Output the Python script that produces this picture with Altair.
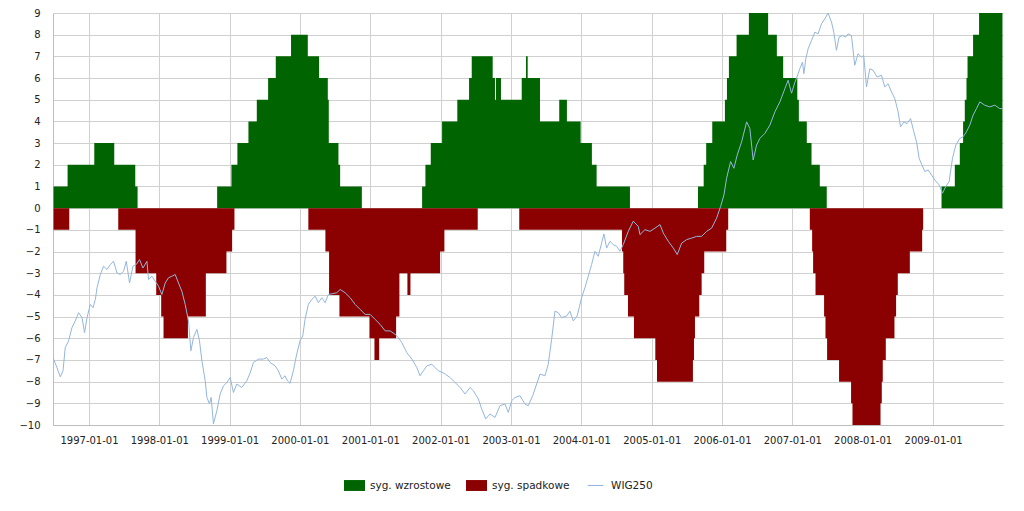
import altair as alt
import pandas as pd
from datetime import datetime, timedelta

# ---- data (times as decimal years) ----
green_t = [1996.497, 1996.696, 1997.075, 1997.359, 1997.658, 1997.691,
           1998.823, 1999.026, 1999.111, 1999.268, 1999.387, 1999.548, 1999.657, 1999.874,
           2000.112, 2000.272, 2000.396, 2000.410, 2000.547, 2000.571, 2000.879,
           2001.736, 2001.783, 2001.859, 2002.020, 2002.237, 2002.404, 2002.442, 2002.740,
           2002.773, 2002.787, 2002.858, 2003.153, 2003.214, 2003.238, 2003.413, 2003.687,
           2003.796, 2003.991, 2004.151, 2004.218, 2004.691,
           2005.658, 2005.739, 2005.775, 2005.861, 2006.041, 2006.070, 2006.098, 2006.207,
           2006.382, 2006.656, 2006.780, 2006.870, 2007.071, 2007.093, 2007.206, 2007.273,
           2007.391, 2007.490,
           2009.120, 2009.309, 2009.380, 2009.427, 2009.451, 2009.475, 2009.490, 2009.569,
           2009.654, 2009.987]
green_v = [1, 2, 3, 2, 1, 0,
           1, 2, 3, 4, 5, 6, 7, 8,
           7, 6, 5, 3, 2, 1, 0,
           1, 2, 3, 4, 5, 6, 7,
           6, 5, 6, 5, 6, 7, 6, 4,
           5, 4, 3, 2, 1, 0,
           1, 2, 3, 4, 5, 6, 7,
           8, 9, 8, 7, 6, 5, 4, 3,
           2, 1, 0,
           1, 2, 3, 4, 5, 6, 7,
           8, 9]

red_t = [1996.497, 1996.720,
         1997.416, 1997.662, 1997.956, 1998.027, 1998.060, 1998.407, 1998.662, 1998.955,
         1999.036, 1999.069,
         2000.120, 2000.362, 2000.414, 2000.561, 2000.987, 2001.058, 2001.125, 2001.366,
         2001.413, 2001.527, 2001.570, 2001.992, 2002.053, 2002.527,
         2003.118, 2004.578, 2004.596, 2004.610, 2004.663, 2004.748, 2005.051, 2005.075,
         2005.586, 2005.601, 2005.615, 2005.676, 2005.710, 2005.747, 2006.060, 2006.088,
         2007.249, 2007.282, 2007.296, 2007.330, 2007.452, 2007.472, 2007.495, 2007.665,
         2007.836, 2007.856, 2008.254, 2008.272, 2008.286, 2008.329, 2008.452, 2008.475,
         2008.499, 2008.670, 2008.845, 2008.859]
red_v = [-1, 0,
         -1, -3, -4, -5, -6, -5, -3, -2,
         -1, 0,
         -1, -2, -4, -5, -6, -7, -6, -5,
         -3, -4, -3, -2, -1, 0,
         -1, -2, -3, -4, -5, -6, -7, -8,
         -7, -6, -5, -4, -3, -2, -1, 0,
         -1, -2, -3, -4, -5, -6, -7, -8,
         -9, -10, -9, -8, -7, -6, -5, -4,
         -3, -2, -1]

wig_t = [1996.497, 1996.545, 1996.592, 1996.631, 1996.663, 1996.710, 1996.758, 1996.805,
         1996.852, 1996.901, 1996.937, 1996.972, 1997.018, 1997.057, 1997.090, 1997.114,
         1997.161, 1997.207, 1997.256, 1997.303, 1997.350, 1997.398, 1997.445, 1997.492,
         1997.530, 1997.577, 1997.625, 1997.672, 1997.719, 1997.767, 1997.824, 1997.847,
         1997.895, 1997.942, 1997.989, 1998.037, 1998.084, 1998.131, 1998.179, 1998.226,
         1998.273, 1998.321, 1998.368, 1998.415, 1998.449, 1998.486, 1998.535, 1998.572,
         1998.606, 1998.653, 1998.677, 1998.714, 1998.738, 1998.770, 1998.819, 1998.866,
         1998.913, 1998.961, 1999.008, 1999.055, 1999.103, 1999.174, 1999.245, 1999.292,
         1999.339, 1999.410, 1999.481, 1999.529, 1999.576, 1999.647, 1999.694, 1999.742,
         1999.789, 1999.822, 1999.860, 1999.907, 1999.955, 2000.002, 2000.041, 2000.073,
         2000.120, 2000.169, 2000.216, 2000.262, 2000.311, 2000.358, 2000.404, 2000.453,
         2000.524, 2000.571, 2000.642, 2000.713, 2000.784, 2000.855, 2000.926, 2000.997,
         2001.068, 2001.139, 2001.210, 2001.281, 2001.352, 2001.399, 2001.447, 2001.518,
         2001.590, 2001.661, 2001.707, 2001.754, 2001.803, 2001.874, 2001.921, 2001.967,
         2002.039, 2002.063, 2002.134, 2002.205, 2002.276, 2002.347, 2002.418, 2002.465,
         2002.536, 2002.584, 2002.641, 2002.702, 2002.773, 2002.844, 2002.915, 2002.962,
         2003.010, 2003.057, 2003.128, 2003.199, 2003.246, 2003.309, 2003.366, 2003.413,
         2003.484, 2003.530, 2003.579, 2003.626, 2003.673, 2003.721, 2003.792, 2003.839,
         2003.886, 2003.942, 2004.005, 2004.052, 2004.099, 2004.147, 2004.194, 2004.241,
         2004.289, 2004.322, 2004.360, 2004.407, 2004.454, 2004.502, 2004.549, 2004.596,
         2004.667, 2004.738, 2004.809, 2004.833, 2004.904, 2004.975, 2005.047, 2005.118,
         2005.165, 2005.236, 2005.307, 2005.363, 2005.426, 2005.497, 2005.568, 2005.639,
         2005.710, 2005.781, 2005.852, 2005.923, 2005.980, 2006.027, 2006.065, 2006.122,
         2006.169, 2006.216, 2006.279, 2006.350, 2006.396, 2006.443, 2006.492, 2006.539,
         2006.610, 2006.681, 2006.752, 2006.823, 2006.894, 2006.940, 2006.989, 2007.036,
         2007.083, 2007.107, 2007.145, 2007.164, 2007.192, 2007.225, 2007.273, 2007.320,
         2007.367, 2007.415, 2007.462, 2007.509, 2007.557, 2007.590, 2007.628, 2007.665,
         2007.714, 2007.760, 2007.793, 2007.841, 2007.888, 2007.935, 2007.983, 2008.016,
         2008.055, 2008.102, 2008.148, 2008.205, 2008.268, 2008.315, 2008.362, 2008.410,
         2008.457, 2008.504, 2008.538, 2008.585, 2008.632, 2008.680, 2008.727, 2008.765,
         2008.802, 2008.840, 2008.883, 2008.930, 2008.978, 2009.025, 2009.086, 2009.134,
         2009.181, 2009.228, 2009.276, 2009.323, 2009.380, 2009.427, 2009.475, 2009.522,
         2009.569, 2009.617, 2009.664, 2009.735, 2009.806, 2009.878, 2009.949, 2009.987]
wig_v = [-6.96, -7.35, -7.78, -7.5, -6.43, -6.12, -5.51, -5.2,
         -4.82, -5.05, -5.74, -5.05, -4.44, -4.59, -4.21, -3.67,
         -3.06, -2.68, -2.83, -2.6, -2.45, -2.99, -3.06, -2.91,
         -2.45, -3.45, -2.68, -2.6, -2.37, -2.76, -2.45, -3.29,
         -3.14, -3.37, -3.6, -3.98, -3.45, -3.21, -3.14, -3.06,
         -3.45, -3.83, -4.44, -5.2, -6.58, -5.97, -5.59, -6.12,
         -7.04, -7.96, -8.73, -9.03, -8.73, -9.95, -9.34, -8.57,
         -8.19, -8.04, -7.81, -8.5, -8.11, -8.27, -7.96, -7.6,
         -7.12, -6.96, -6.96, -6.89, -7.12, -7.27, -7.5, -7.88,
         -7.73, -7.96, -8.08, -7.5, -6.73, -6.12, -5.89, -5.13,
         -4.44, -4.21, -4.06, -4.36, -4.13, -4.36, -3.98, -3.95,
         -3.9, -3.75, -3.9, -4.13, -4.44, -4.67, -4.9, -4.9,
         -5.13, -5.36, -5.66, -5.66, -5.82, -5.97, -6.2, -6.66,
         -6.96, -7.35, -7.73, -7.5, -7.27, -7.2, -7.35, -7.5,
         -7.6, -7.65, -7.81, -8.04, -8.27, -8.57, -8.27, -8.42,
         -8.8, -9.26, -9.72, -9.49, -9.65, -9.11, -9.03, -9.42,
         -8.88, -8.73, -8.65, -9.03, -9.11, -8.65, -8.11, -7.65,
         -7.73, -7.2, -6.05, -4.75, -4.82, -5.05, -4.97, -4.75,
         -5.2, -4.97, -4.13, -3.67, -3.14, -2.6, -1.99, -2.22,
         -1.61, -1.19, -1.84, -1.53, -1.68, -1.76, -1.99, -1.68,
         -1.07, -0.6, -0.84, -1.22, -0.99, -1.07, -0.92, -0.76,
         -1.15, -1.53, -1.84, -2.14, -1.61, -1.45, -1.38, -1.3,
         -1.3, -1.07, -0.92, -0.46, 0.08, 0.61, 1.38, 2.15,
         1.84, 2.45, 3.06, 3.98, 3.67, 2.22, 2.91, 3.22,
         3.45, 3.83, 4.44, 4.9, 5.51, 5.9, 5.3, 5.8,
         6.2, 6.43, 6.74, 6.2, 6.89, 7.35, 7.73, 8.12,
         8.04, 8.5, 8.73, 9.0, 8.58, 8.12, 7.28, 7.89,
         7.96, 7.89, 8.04, 7.96, 6.59, 7.12, 6.97, 7.04,
         5.59, 6.43, 6.36, 6.05, 6.13, 5.59, 5.74, 5.36,
         5.05, 4.44, 3.75, 3.98, 3.9, 4.13, 3.52, 3.06,
         2.3, 2.0, 1.69, 1.76, 1.53, 1.3, 1.07, 0.69,
         1.0, 1.23, 2.3, 2.91, 3.22, 3.29, 3.52, 3.83,
         4.29, 4.59, 4.9, 4.75, 4.67, 4.75, 4.59, 4.59]

tick_years = list(range(1997, 2010))
y_ticks = list(range(-10, 10))
series_names = ["syg. wzrostowe", "syg. spadkowe", "WIG250"]
series_colors = ["#006400", "#8b0000", "#94b6dc"]
rect_shape = "M-1,-0.52H1V0.52H-1Z"
line_shape = "M-0.75,-0.05H0.75V0.05H-0.75Z"


def to_date(t):
    y = int(t)
    start = datetime(y, 1, 1)
    ndays = (datetime(y + 1, 1, 1) - start).days
    return (start + timedelta(days=(t - y) * ndays)).strftime("%Y-%m-%dT%H:%M:%S")


def step_frame(ts, vs):
    vals = list(vs) + [0] * (len(ts) - len(vs))
    return pd.DataFrame({"date": [to_date(t) for t in ts], "v": vals})


green_df = step_frame(green_t, green_v)
red_df = step_frame(red_t, red_v)
wig_df = pd.DataFrame({"date": [to_date(t) for t in wig_t], "v": wig_v})
legend_df = pd.DataFrame({"series": series_names})

x_scale = alt.Scale(domain=[alt.DateTime(year=1996, month=6, date=28),
                            alt.DateTime(year=2009, month=12, date=30)])
y_scale = alt.Scale(domain=[-10, 9], nice=False, zero=False)

x_axis = alt.Axis(values=[alt.DateTime(year=y, month=1, date=1) for y in tick_years],
                  format="%Y-%m-%d", title=None, grid=True, ticks=False, tickSize=0,
                  labelPadding=10, labelFlush=False, labelOverlap=False)
y_axis = alt.Axis(values=y_ticks, title=None, grid=True, ticks=False, tickSize=0,
                  labelPadding=13)

x_enc = alt.X("date:T", scale=x_scale, axis=x_axis)
y_enc = alt.Y("v:Q", scale=y_scale, axis=y_axis)

green = alt.Chart(green_df).mark_area(interpolate="step-after", color="#006400").encode(
    x=x_enc, y=y_enc)
red = alt.Chart(red_df).mark_area(interpolate="step-after", color="#8b0000").encode(
    x=x_enc, y=y_enc)
line = alt.Chart(wig_df).mark_line(color="#94b6dc", strokeWidth=1).encode(
    x=x_enc, y=y_enc)

leg = alt.Legend(orient="none", legendX=291, legendY=462, direction="horizontal",
                 title=None, symbolSize=441, labelFont="DejaVu Sans", labelFontSize=10.5,
                 labelColor="#222", labelOffset=5, columnPadding=15, padding=0,
                 symbolStrokeWidth=0, symbolOpacity=1)
legend_layer = alt.Chart(legend_df).mark_point(filled=True, opacity=0).encode(
    color=alt.Color("series:N", scale=alt.Scale(domain=series_names, range=series_colors),
                    legend=leg),
    shape=alt.Shape("series:N", scale=alt.Scale(domain=series_names,
                                                range=[rect_shape, rect_shape, line_shape]),
                    legend=leg),
)

chart = alt.layer(green, red, line, legend_layer).properties(
    width=950, height=412,
    padding={"left": 45, "top": 5, "right": 13, "bottom": 80},
    autosize=alt.AutoSizeParams(type="none"),
    background="white",
).configure_view(stroke=None).configure_axis(
    labelFont="DejaVu Sans", labelFontSize=10, labelColor="#222",
    gridColor="#d0d0d0", gridWidth=1, domainColor="#bdbdbd", domainWidth=1,
)

chart.save("out.html", embed_options={"renderer": "svg", "actions": False})
